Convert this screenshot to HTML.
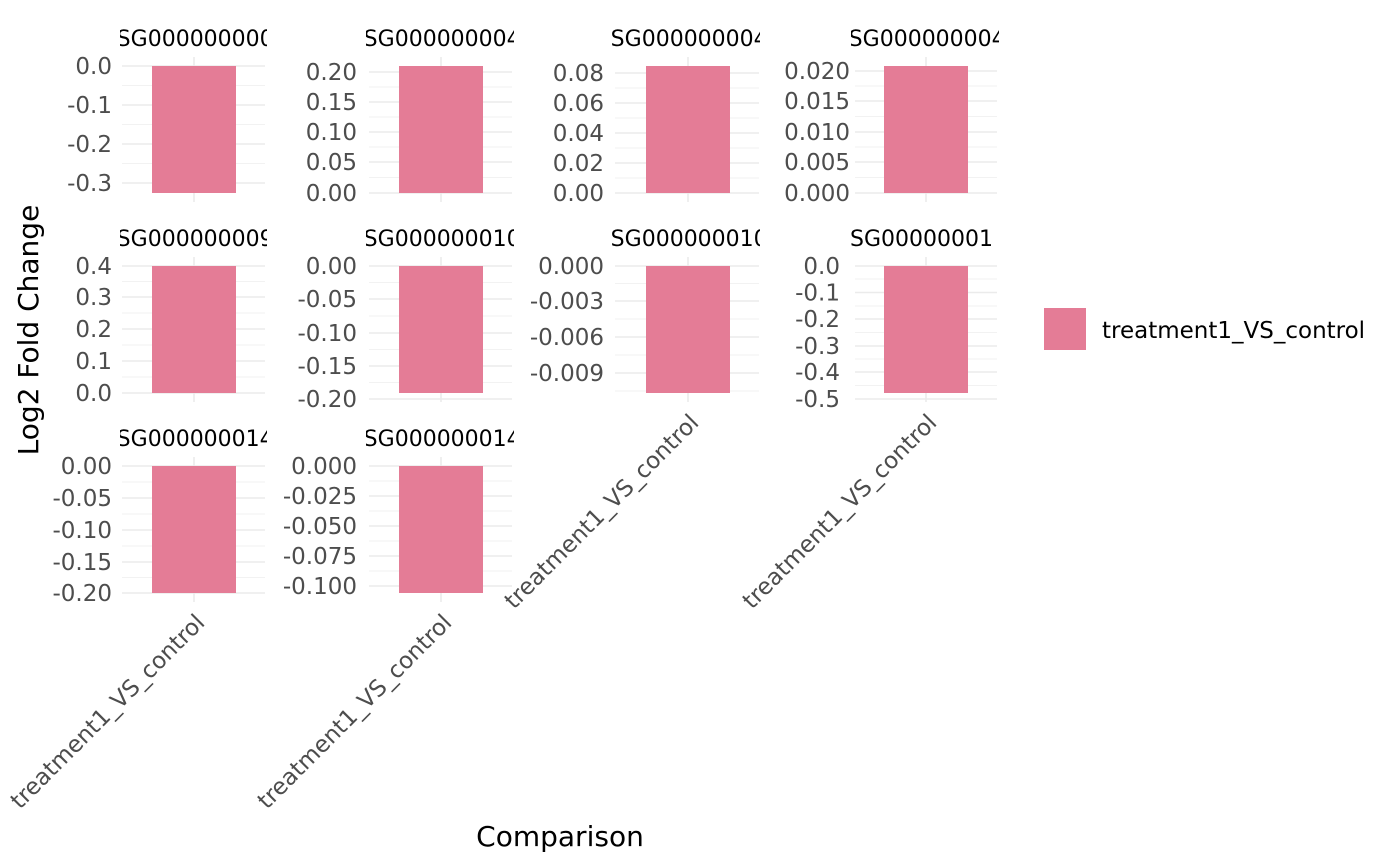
<!DOCTYPE html><html><head><meta charset="utf-8"><style>body{margin:0;background:#fff}svg{display:block}text{font-family:"DejaVu Sans","Liberation Sans",sans-serif}</style></head><body>
<svg width="1400" height="866" xmlns="http://www.w3.org/2000/svg">
<defs>
<clipPath id="c1"><rect x="120" y="0" width="147" height="866"/></clipPath>
<clipPath id="c2"><rect x="366" y="0" width="148" height="866"/></clipPath>
<clipPath id="c3"><rect x="612" y="0" width="148" height="866"/></clipPath>
<clipPath id="c4"><rect x="851" y="0" width="148" height="866"/></clipPath>
</defs>
<g stroke="#ebebeb" stroke-width="1.6">
<line x1="194" y1="57" x2="194" y2="202"/><line x1="441" y1="57" x2="441" y2="202"/><line x1="688" y1="57" x2="688" y2="202"/><line x1="926" y1="57" x2="926" y2="202"/>
<line x1="194" y1="257" x2="194" y2="402"/><line x1="441" y1="257" x2="441" y2="402"/><line x1="688" y1="257" x2="688" y2="402"/><line x1="926" y1="257" x2="926" y2="402"/>
<line x1="194" y1="457" x2="194" y2="602"/><line x1="441" y1="457" x2="441" y2="602"/>
<line x1="122" x2="265" y1="66" y2="66"/><line x1="122" x2="265" y1="105" y2="105"/><line x1="122" x2="265" y1="144" y2="144"/><line x1="122" x2="265" y1="183" y2="183"/>
<line x1="369" x2="512" y1="72" y2="72"/><line x1="369" x2="512" y1="102" y2="102"/><line x1="369" x2="512" y1="132" y2="132"/><line x1="369" x2="512" y1="162" y2="162"/><line x1="369" x2="512" y1="193" y2="193"/>
<line x1="615" x2="759" y1="73" y2="73"/><line x1="615" x2="759" y1="103" y2="103"/><line x1="615" x2="759" y1="133" y2="133"/><line x1="615" x2="759" y1="163" y2="163"/><line x1="615" x2="759" y1="193" y2="193"/>
<line x1="855" x2="997" y1="71" y2="71"/><line x1="855" x2="997" y1="101" y2="101"/><line x1="855" x2="997" y1="132" y2="132"/><line x1="855" x2="997" y1="162" y2="162"/><line x1="855" x2="997" y1="193" y2="193"/>
<line x1="122" x2="265" y1="266" y2="266"/><line x1="122" x2="265" y1="297" y2="297"/><line x1="122" x2="265" y1="329" y2="329"/><line x1="122" x2="265" y1="361" y2="361"/><line x1="122" x2="265" y1="393" y2="393"/>
<line x1="369" x2="512" y1="266" y2="266"/><line x1="369" x2="512" y1="299" y2="299"/><line x1="369" x2="512" y1="333" y2="333"/><line x1="369" x2="512" y1="366" y2="366"/><line x1="369" x2="512" y1="399" y2="399"/>
<line x1="615" x2="759" y1="266" y2="266"/><line x1="615" x2="759" y1="301" y2="301"/><line x1="615" x2="759" y1="337" y2="337"/><line x1="615" x2="759" y1="373" y2="373"/>
<line x1="855" x2="997" y1="266" y2="266"/><line x1="855" x2="997" y1="292.5" y2="292.5"/><line x1="855" x2="997" y1="319" y2="319"/><line x1="855" x2="997" y1="346" y2="346"/><line x1="855" x2="997" y1="372" y2="372"/><line x1="855" x2="997" y1="399" y2="399"/>
<line x1="122" x2="265" y1="466" y2="466"/><line x1="122" x2="265" y1="498" y2="498"/><line x1="122" x2="265" y1="530" y2="530"/><line x1="122" x2="265" y1="562" y2="562"/><line x1="122" x2="265" y1="593" y2="593"/>
<line x1="369" x2="512" y1="466" y2="466"/><line x1="369" x2="512" y1="496" y2="496"/><line x1="369" x2="512" y1="526" y2="526"/><line x1="369" x2="512" y1="556" y2="556"/><line x1="369" x2="512" y1="586" y2="586"/>
</g>
<g stroke="#f2f2f2" stroke-width="1">
<line x1="122" x2="265" y1="85.5" y2="85.5"/><line x1="122" x2="265" y1="124.5" y2="124.5"/><line x1="122" x2="265" y1="163.5" y2="163.5"/>
<line x1="369" x2="512" y1="87" y2="87"/><line x1="369" x2="512" y1="117" y2="117"/><line x1="369" x2="512" y1="147" y2="147"/><line x1="369" x2="512" y1="177.5" y2="177.5"/>
<line x1="615" x2="759" y1="88" y2="88"/><line x1="615" x2="759" y1="118" y2="118"/><line x1="615" x2="759" y1="148" y2="148"/><line x1="615" x2="759" y1="178" y2="178"/>
<line x1="855" x2="997" y1="86" y2="86"/><line x1="855" x2="997" y1="116.5" y2="116.5"/><line x1="855" x2="997" y1="147" y2="147"/><line x1="855" x2="997" y1="177.5" y2="177.5"/>
<line x1="122" x2="265" y1="281.5" y2="281.5"/><line x1="122" x2="265" y1="313" y2="313"/><line x1="122" x2="265" y1="345" y2="345"/><line x1="122" x2="265" y1="377" y2="377"/>
<line x1="369" x2="512" y1="282.5" y2="282.5"/><line x1="369" x2="512" y1="316" y2="316"/><line x1="369" x2="512" y1="349.5" y2="349.5"/><line x1="369" x2="512" y1="382.5" y2="382.5"/>
<line x1="615" x2="759" y1="283.5" y2="283.5"/><line x1="615" x2="759" y1="319" y2="319"/><line x1="615" x2="759" y1="355" y2="355"/><line x1="615" x2="759" y1="391" y2="391"/>
<line x1="855" x2="997" y1="279" y2="279"/><line x1="855" x2="997" y1="306" y2="306"/><line x1="855" x2="997" y1="332.5" y2="332.5"/><line x1="855" x2="997" y1="359" y2="359"/><line x1="855" x2="997" y1="385.5" y2="385.5"/>
<line x1="122" x2="265" y1="482" y2="482"/><line x1="122" x2="265" y1="514" y2="514"/><line x1="122" x2="265" y1="546" y2="546"/><line x1="122" x2="265" y1="577.5" y2="577.5"/>
<line x1="369" x2="512" y1="481" y2="481"/><line x1="369" x2="512" y1="511" y2="511"/><line x1="369" x2="512" y1="541" y2="541"/><line x1="369" x2="512" y1="571" y2="571"/>
</g>
<g fill="#e47c96">
<rect x="152" y="66" width="84" height="127"/><rect x="399" y="66" width="84" height="127"/><rect x="646" y="66" width="84" height="127"/><rect x="884" y="66" width="84" height="127"/>
<rect x="152" y="266" width="84" height="127"/><rect x="399" y="266" width="84" height="127"/><rect x="646" y="266" width="84" height="127"/><rect x="884" y="266" width="84" height="127"/>
<rect x="152" y="466" width="84" height="127"/><rect x="399" y="466" width="84" height="127"/>
</g>
<g font-size="22" fill="#000" text-anchor="middle">
<text x="194" y="46" clip-path="url(#c1)">ENSG00000000003</text>
<text x="441" y="46" clip-path="url(#c2)">ENSG00000000419</text>
<text x="688" y="46" clip-path="url(#c3)">ENSG00000000457</text>
<text x="926" y="46" clip-path="url(#c4)">ENSG00000000460</text>
<text x="194" y="246" clip-path="url(#c1)">ENSG00000000938</text>
<text x="441" y="246" clip-path="url(#c2)">ENSG00000001036</text>
<text x="688" y="246" clip-path="url(#c3)">ENSG00000001084</text>
<text x="993" y="246" text-anchor="end" clip-path="url(#c4)">ENSG00000001</text>
<text x="194" y="446" clip-path="url(#c1)">ENSG00000001460</text>
<text x="441" y="446" clip-path="url(#c2)">ENSG00000001461</text>
</g>
<g font-size="23" fill="#4d4d4d" text-anchor="end">
<text x="112" y="74">0.0</text><text x="112" y="113">-0.1</text><text x="112" y="152">-0.2</text><text x="112" y="191">-0.3</text>
<text x="357" y="80">0.20</text><text x="357" y="110">0.15</text><text x="357" y="140">0.10</text><text x="357" y="170">0.05</text><text x="357" y="201">0.00</text>
<text x="604" y="81">0.08</text><text x="604" y="111">0.06</text><text x="604" y="141">0.04</text><text x="604" y="171">0.02</text><text x="604" y="201">0.00</text>
<text x="850" y="79">0.020</text><text x="850" y="109">0.015</text><text x="850" y="140">0.010</text><text x="850" y="170">0.005</text><text x="850" y="201">0.000</text>
<text x="112" y="274">0.4</text><text x="112" y="305">0.3</text><text x="112" y="337">0.2</text><text x="112" y="369">0.1</text><text x="112" y="401">0.0</text>
<text x="357" y="274">0.00</text><text x="357" y="307">-0.05</text><text x="357" y="341">-0.10</text><text x="357" y="374">-0.15</text><text x="357" y="407">-0.20</text>
<text x="604" y="274">0.000</text><text x="604" y="309">-0.003</text><text x="604" y="345">-0.006</text><text x="604" y="381">-0.009</text>
<text x="840" y="274">0.0</text><text x="840" y="300.5">-0.1</text><text x="840" y="327">-0.2</text><text x="840" y="354">-0.3</text><text x="840" y="380">-0.4</text><text x="840" y="407">-0.5</text>
<text x="112" y="474">0.00</text><text x="112" y="506">-0.05</text><text x="112" y="538">-0.10</text><text x="112" y="570">-0.15</text><text x="112" y="601">-0.20</text>
<text x="357" y="474">0.000</text><text x="357" y="504">-0.025</text><text x="357" y="534">-0.050</text><text x="357" y="564">-0.075</text><text x="357" y="594">-0.100</text>
<text transform="translate(206,624) rotate(-45)">treatment1_VS_control</text>
<text transform="translate(453,624) rotate(-45)">treatment1_VS_control</text>
<text transform="translate(700,424) rotate(-45)">treatment1_VS_control</text>
<text transform="translate(938,424) rotate(-45)">treatment1_VS_control</text>
</g>
<text x="560" y="846" font-size="28" text-anchor="middle">Comparison</text>
<text transform="translate(38,330) rotate(-90)" font-size="28" text-anchor="middle">Log2 Fold Change</text>
<rect x="1044" y="308" width="42" height="42" fill="#e47c96"/>
<text x="1102" y="338" font-size="23">treatment1_VS_control</text>
</svg>
</body></html>
